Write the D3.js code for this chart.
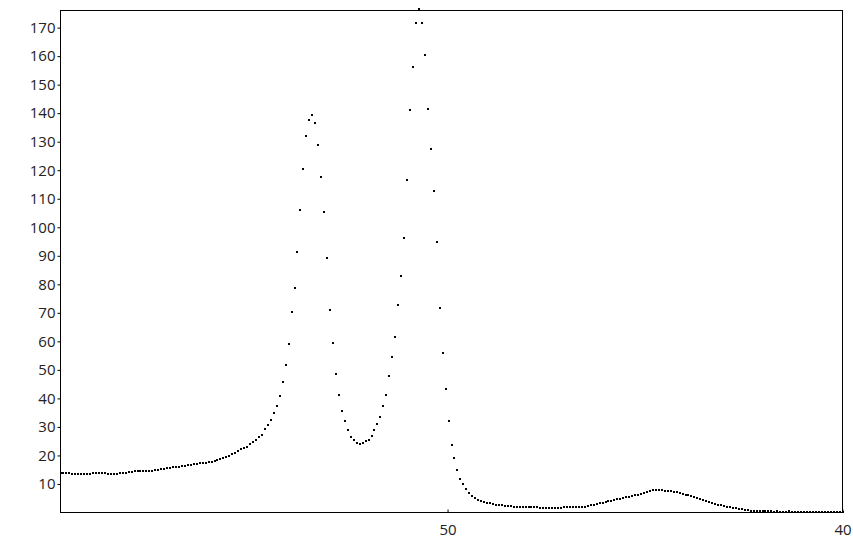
<!DOCTYPE html>
<html>
<head>
<meta charset="utf-8">
<script src="https://cdn.jsdelivr.net/npm/d3@7"></script>
<style>
  html, body { margin: 0; padding: 0; background: #fff; }
  svg { display: block; }
  .tick text { font-family: "Open Sans", "DejaVu Sans", sans-serif; font-size: 15px; fill: #222; }
</style>
</head>
<body>
<svg id="chart" width="853" height="540"></svg>
<script>
// ---- data ----
const xValues = [
  59.8, 59.725, 59.65, 59.575, 59.5, 59.425, 59.35, 59.275, 59.2, 59.125,
  59.05, 58.975, 58.9, 58.825, 58.75, 58.675, 58.6, 58.525, 58.45, 58.375,
  58.3, 58.225, 58.15, 58.075, 58.0, 57.925, 57.85, 57.775, 57.7, 57.625,
  57.55, 57.475, 57.4, 57.325, 57.25, 57.175, 57.1, 57.025, 56.95, 56.875,
  56.8, 56.725, 56.65, 56.575, 56.5, 56.425, 56.35, 56.275, 56.2, 56.125,
  56.05, 55.975, 55.9, 55.825, 55.75, 55.675, 55.6, 55.525, 55.45, 55.375,
  55.3, 55.225, 55.15, 55.075, 55.0, 54.925, 54.85, 54.775, 54.7, 54.625,
  54.55, 54.475, 54.4, 54.325, 54.25, 54.175, 54.1, 54.025, 53.95, 53.875,
  53.8, 53.725, 53.65, 53.575, 53.5, 53.425, 53.35, 53.275, 53.2, 53.125,
  53.05, 52.975, 52.9, 52.825, 52.75, 52.675, 52.6, 52.525, 52.45, 52.375,
  52.3, 52.225, 52.15, 52.075, 52.0, 51.925, 51.85, 51.775, 51.7, 51.625,
  51.55, 51.475, 51.4, 51.325, 51.25, 51.175, 51.1, 51.025, 50.95, 50.875,
  50.8, 50.725, 50.65, 50.575, 50.5, 50.425, 50.35, 50.275, 50.2, 50.125,
  50.05, 49.975, 49.9, 49.825, 49.75, 49.675, 49.6, 49.525, 49.45, 49.375,
  49.3, 49.225, 49.15, 49.075, 49.0, 48.925, 48.85, 48.775, 48.7, 48.625,
  48.55, 48.475, 48.4, 48.325, 48.25, 48.175, 48.1, 48.025, 47.95, 47.875,
  47.8, 47.725, 47.65, 47.575, 47.5, 47.425, 47.35, 47.275, 47.2, 47.125,
  47.05, 46.975, 46.9, 46.825, 46.75, 46.675, 46.6, 46.525, 46.45, 46.375,
  46.3, 46.225, 46.15, 46.075, 46.0, 45.925, 45.85, 45.775, 45.7, 45.625,
  45.55, 45.475, 45.4, 45.325, 45.25, 45.175, 45.1, 45.025, 44.95, 44.875,
  44.8, 44.725, 44.65, 44.575, 44.5, 44.425, 44.35, 44.275, 44.2, 44.125,
  44.05, 43.975, 43.9, 43.825, 43.75, 43.675, 43.6, 43.525, 43.45, 43.375,
  43.3, 43.225, 43.15, 43.075, 43.0, 42.925, 42.85, 42.775, 42.7, 42.625,
  42.55, 42.475, 42.4, 42.325, 42.25, 42.175, 42.1, 42.025, 41.95, 41.875,
  41.8, 41.725, 41.65, 41.575, 41.5, 41.425, 41.35, 41.275, 41.2, 41.125,
  41.05, 40.975, 40.9, 40.825, 40.75, 40.675, 40.6, 40.525, 40.45, 40.375,
  40.3, 40.225, 40.15, 40.075, 40.0
];
const yValues = [
  13.9, 14.0, 13.9, 13.8, 13.6, 13.6, 13.5, 13.5, 13.5, 13.6,
  13.6, 13.7, 13.8, 13.9, 13.9, 13.8, 13.6, 13.5, 13.5, 13.6,
  13.8, 13.9, 14.0, 14.1, 14.3, 14.4, 14.4, 14.5, 14.5, 14.6,
  14.6, 14.7, 14.8, 15.0, 15.2, 15.4, 15.6, 15.7, 15.8, 15.9,
  16.1, 16.2, 16.4, 16.5, 16.7, 16.9, 17.0, 17.2, 17.3, 17.5,
  17.7, 17.8, 18.0, 18.4, 18.7, 19.1, 19.4, 19.9, 20.4, 20.9,
  21.5, 22.1, 22.6, 23.1, 23.9, 24.6, 25.4, 26.3, 27.1, 29.1,
  30.8, 32.3, 34.9, 37.5, 40.7, 45.6, 51.6, 59.2, 70.2, 78.8,
  91.3, 106.0, 120.6, 132.0, 137.6, 139.3, 136.4, 128.8, 117.6, 105.3,
  89.1, 70.9, 59.6, 48.7, 41.1, 35.5, 32.0, 28.8, 26.5, 25.3,
  24.5, 24.1, 24.5, 24.9, 25.3, 26.9, 28.8, 31.2, 33.4, 37.2,
  41.1, 47.8, 54.4, 61.4, 72.7, 82.8, 96.2, 116.5, 141.1, 156.1,
  171.6, 176.5, 171.6, 160.4, 141.5, 127.4, 112.7, 94.8, 71.6, 55.8,
  43.2, 32.0, 23.5, 19.0, 14.8, 11.7, 10.0, 8.2, 6.8, 5.7,
  5.0, 4.5, 4.1, 3.8, 3.5, 3.2, 3.0, 2.7, 2.6, 2.5,
  2.4, 2.3, 2.2, 2.1, 2.0, 1.9, 1.9, 1.8, 1.8, 1.9,
  2.0, 1.8, 1.6, 1.5, 1.6, 1.5, 1.5, 1.6, 1.7, 1.7,
  1.8, 1.8, 1.8, 1.8, 1.8, 1.9, 2.0, 2.1, 2.3, 2.5,
  2.7, 2.9, 3.2, 3.5, 3.8, 4.0, 4.2, 4.5, 4.7, 4.9,
  5.1, 5.3, 5.5, 5.7, 6.0, 6.1, 6.6, 6.7, 7.1, 7.5,
  7.8, 8.0, 7.9, 7.8, 7.7, 7.6, 7.5, 7.3, 7.1, 6.8,
  6.6, 6.3, 6.0, 5.7, 5.4, 5.1, 4.7, 4.4, 4.0, 3.6,
  3.3, 3.0, 2.7, 2.5, 2.2, 2.0, 1.9, 1.7, 1.5, 1.3,
  1.1, 0.9, 0.8, 0.7, 0.6, 0.5, 0.5, 0.4, 0.4, 0.4,
  0.4, 0.3, 0.4, 0.3, 0.3, 0.3, 0.4, 0.3, 0.3, 0.3,
  0.3, 0.3, 0.3, 0.3, 0.3, 0.3, 0.3, 0.3, 0.3, 0.3,
  0.3, 0.3, 0.3, 0.3, 0.3
];
const xTicks = [50, 40];
const yTicks = [10, 20, 30, 40, 50, 60, 70, 80, 90, 100, 110, 120, 130, 140, 150, 160, 170];
const xDomain = [59.8, 40];
const yDomain = [0, 176];

// ---- chart ----
const plot = { left: 60.5, top: 10.5, right: 842.5, bottom: 512.5 };
const svg = d3.select("#chart");

const x = d3.scaleLinear().domain(xDomain).range([plot.left, plot.right]);
const y = d3.scaleLinear().domain(yDomain).range([plot.bottom, plot.top]);

const points = xValues.map((v, i) => ({ x: v, y: yValues[i] }));

// frame
svg.append("rect")
  .attr("x", plot.left).attr("y", plot.top)
  .attr("width", plot.right - plot.left)
  .attr("height", plot.bottom - plot.top)
  .attr("fill", "none").attr("stroke", "#000").attr("stroke-width", 1);

// y axis
const yAxis = svg.append("g")
  .attr("transform", `translate(${plot.left},0)`)
  .call(d3.axisLeft(y).tickValues(yTicks).tickSize(3).tickPadding(2).tickFormat(d3.format("d")));
yAxis.select(".domain").remove();
yAxis.selectAll(".tick line").attr("stroke", "#000");

// x axis
const xAxis = svg.append("g")
  .attr("transform", `translate(0,${plot.bottom})`)
  .call(d3.axisBottom(x).tickValues(xTicks).tickSize(-3).tickPadding(12).tickFormat(d3.format("d")));
xAxis.select(".domain").remove();
xAxis.selectAll(".tick line").attr("stroke", "#000");

// points
svg.append("g")
  .selectAll("rect")
  .data(points)
  .join("rect")
  .attr("x", d => Math.round(x(d.x)) - 1)
  .attr("y", d => Math.round(y(d.y)) - 1)
  .attr("width", 2)
  .attr("height", 2)
  .attr("fill", "#000");
</script>
</body>
</html>
